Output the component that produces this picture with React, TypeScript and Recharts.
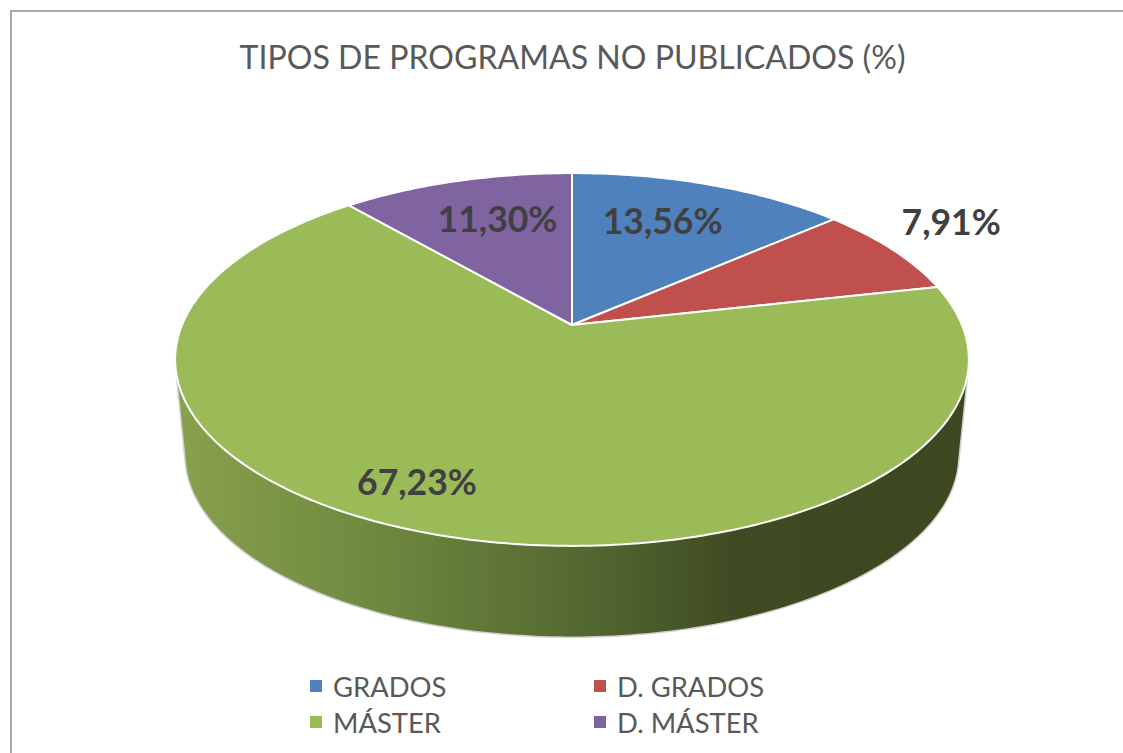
import { PieChart, Pie, Cell, Legend } from 'recharts'

const titleText = 'TIPOS DE PROGRAMAS NO PUBLICADOS (%)'
const categories = ['GRADOS', 'D. GRADOS', 'MÁSTER', 'D. MÁSTER']
const values = [13.56, 7.91, 67.23, 11.3]
const colors = ['#4f81bd', '#c0504d', '#9bbb59', '#8064a2']
// label placement: share of the pie radius, then a small nudge in px
const labelRadius = [0.69, 1.26, 0.83, 0.68]
const labelNudgeX = [-9, -17, -36, 8]
const labelNudgeY = [-3, -11, -10, -4]

const pieData = categories.map((name, i) => ({ name, value: values[i] }))

// perspective of the tilted pie
const SQUASH = 0.478
const FAR = 0.185
const CENTER_SHIFT = 34.5
const WALL_DROP = 96
const WALL_SCALE = 0.975

function project(r: number, deg: number, dist = 1) {
  const a = (deg * Math.PI) / 180
  const u = Math.cos(a) * dist
  const v = Math.sin(a) * dist
  const d = 1 + FAR * v
  return {
    x: (r * u) / d,
    y: (-CENTER_SHIFT - r * SQUASH * v) / d,
  }
}

function arcPoints(p: any, scale: number, drop: number) {
  const { cx, cy, outerRadius, startAngle, endAngle } = p
  const pts: [number, number][] = []
  const steps = Math.max(2, Math.ceil(Math.abs(startAngle - endAngle)))
  for (let i = 0; i <= steps; i++) {
    const deg = startAngle + ((endAngle - startAngle) * i) / steps
    const q = project(outerRadius, deg)
    pts.push([cx + q.x * scale, cy + CENTER_SHIFT + drop + q.y * scale])
  }
  return pts
}

// outline of the side wall: convex hull of the top and bottom arcs
function hull(points: [number, number][]) {
  const pts = [...points].sort((a, b) => a[0] - b[0] || a[1] - b[1])
  const cross = (o: number[], a: number[], b: number[]) =>
    (a[0] - o[0]) * (b[1] - o[1]) - (a[1] - o[1]) * (b[0] - o[0])
  const half = (list: [number, number][]) => {
    const out: [number, number][] = []
    for (const p of list) {
      while (out.length >= 2 && cross(out[out.length - 2], out[out.length - 1], p) <= 0) out.pop()
      out.push(p)
    }
    out.pop()
    return out
  }
  return [...half(pts), ...half([...pts].reverse())]
}

const toPath = (pts: [number, number][]) => pts.map((p) => `${p[0]},${p[1]}`).join('L')

// only the big slice shows its side, the others face away
function SliceWall(props: any) {
  if (props.name !== 'MÁSTER') return <g />
  const pts = [...arcPoints(props, 1, 0), ...arcPoints(props, WALL_SCALE, WALL_DROP)]
  return <path d={`M${toPath(hull(pts))}Z`} fill="url(#wallShade)" stroke="#cfcfcf" strokeWidth={1.5} />
}

function SliceTop(props: any) {
  const { cx, cy, fill } = props
  return (
    <path
      d={`M${cx},${cy}L${toPath(arcPoints(props, 1, 0))}Z`}
      fill={fill}
      stroke="#fff"
      strokeWidth={2}
      strokeLinejoin="round"
    />
  )
}

function SliceLabel(props: any) {
  const { cx, cy, outerRadius, midAngle, index, value } = props
  const q = project(outerRadius, midAngle, labelRadius[index])
  return (
    <text
      x={cx + q.x + labelNudgeX[index]}
      y={cy + CENTER_SHIFT + q.y + labelNudgeY[index]}
      textAnchor="middle"
      dominantBaseline="central"
      fill="#404040"
      fontSize={35.5}
      fontWeight={700}
      fontFamily="Lato"
    >
      {value.toFixed(2).replace('.', ',')}%
    </text>
  )
}

function LegendGrid() {
  return (
    <div
      style={{
        display: 'grid',
        gridTemplateColumns: '284px 284px',
        gridAutoRows: '36px',
        fontFamily: 'Lato',
        fontSize: 27.4,
        color: '#595959',
      }}
    >
      {categories.map((name, i) => (
        <div key={name} style={{ display: 'flex', alignItems: 'center' }}>
          <span style={{ width: 12, height: 12, background: colors[i], marginRight: 11 }} />
          {name}
        </div>
      ))}
    </div>
  )
}

export default function App() {
  return (
    <div
      style={{
        position: 'absolute',
        left: 0,
        top: 0,
        width: 1123,
        height: 753,
        overflow: 'hidden',
        background: '#fff',
      }}
    >
      <div
        style={{
          position: 'absolute',
          left: 10,
          top: 10,
          right: 0,
          bottom: 0,
          borderLeft: '2px solid #a9a9a9',
          borderTop: '2px solid #a9a9a9',
        }}
      />
      <div
        style={{
          position: 'absolute',
          left: 0,
          width: 1145,
          top: 36,
          textAlign: 'center',
          fontFamily: 'Lato',
          fontSize: 32.1,
          lineHeight: '42px',
          color: '#595959',
        }}
      >
        {titleText}
      </div>
      <PieChart
        width={1123}
        height={753}
        margin={{ top: 0, right: 0, bottom: 0, left: 0 }}
        style={{ position: 'absolute', left: 0, top: 0 }}
      >
        <defs>
          <linearGradient id="wallShade" gradientUnits="userSpaceOnUse" x1={186} y1={0} x2={958} y2={0}>
            <stop offset="0" stopColor="#87a04b" />
            <stop offset="0.277" stopColor="#6b853e" />
            <stop offset="0.497" stopColor="#566a32" />
            <stop offset="0.72" stopColor="#3e4a22" />
            <stop offset="1" stopColor="#3d4720" />
          </linearGradient>
        </defs>
        <Pie
          data={pieData}
          dataKey="value"
          nameKey="name"
          cx={572}
          cy={325}
          outerRadius={390}
          startAngle={90}
          endAngle={-270}
          shape={SliceWall}
          legendType="none"
          isAnimationActive={false}
        />
        <Pie
          data={pieData}
          dataKey="value"
          nameKey="name"
          cx={572}
          cy={325}
          outerRadius={390}
          startAngle={90}
          endAngle={-270}
          shape={SliceTop}
          label={SliceLabel}
          labelLine={false}
          isAnimationActive={false}
        >
          {pieData.map((d, i) => (
            <Cell key={d.name} fill={colors[i]} />
          ))}
        </Pie>
        <Legend
          content={<LegendGrid />}
          wrapperStyle={{ position: 'absolute', left: 310, top: 668, width: 600 }}
        />
      </PieChart>
    </div>
  )
}
